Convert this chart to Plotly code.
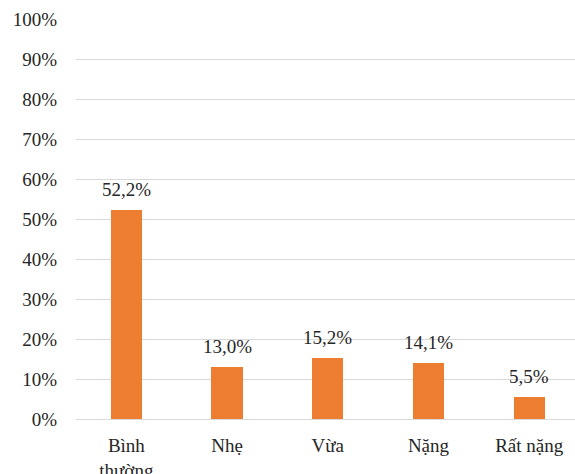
import plotly.graph_objects as go

categories = ["Bình<br>thường", "Nhẹ", "Vừa", "Nặng", "Rất nặng"]
values = [0.522, 0.130, 0.152, 0.141, 0.055]
tick_vals = [i / 10 for i in range(11)]
tick_text = [f"{i * 10}%" for i in range(11)]
value_labels = [f"{v * 100:.1f}%".replace(".", ",") for v in values]

FONT = "Liberation Serif, Times New Roman, serif"
TXT = "#262626"
FS = 19

xs = list(range(len(categories)))
fig = go.Figure(
    go.Bar(
        x=xs,
        y=values,
        width=0.31,
        marker=dict(color="#ED7D31", line=dict(width=0)),
    )
)

for x, v, lab in zip(xs, values, value_labels):
    fig.add_annotation(
        x=x, y=v, text=lab, showarrow=False,
        yanchor="bottom", yshift=8,
        font=dict(family=FONT, size=FS, color=TXT),
    )

fig.update_layout(
    width=575,
    height=474,
    margin=dict(l=76, r=0, t=19, b=55, autoexpand=False),
    paper_bgcolor="white",
    plot_bgcolor="white",
    showlegend=False,
    bargap=0,
    font=dict(family=FONT, size=FS, color=TXT),
)
fig.update_xaxes(
    range=[-0.5, 4.455],
    tickvals=xs,
    ticktext=categories,
    showgrid=False,
    zeroline=False,
    showline=False,
    ticks="outside",
    ticklen=9,
    tickcolor="rgba(0,0,0,0)",
    tickfont=dict(family=FONT, size=FS, color=TXT),
    automargin=False,
)
fig.update_yaxes(
    range=[0, 1.0],
    tickvals=tick_vals,
    ticktext=tick_text,
    showgrid=True,
    gridcolor="#D9D9D9",
    gridwidth=1,
    zeroline=True,
    zerolinecolor="#D9D9D9",
    zerolinewidth=1,
    showline=False,
    ticks="outside",
    ticklen=14,
    tickcolor="rgba(0,0,0,0)",
    tickfont=dict(family=FONT, size=FS, color=TXT),
    automargin=False,
)

fig.write_html("out.html")
